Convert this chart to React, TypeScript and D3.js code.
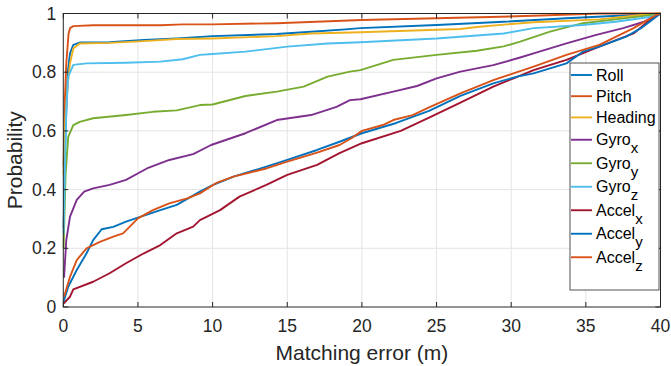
import { useEffect, useRef } from 'react';
import * as d3 from 'd3';

// matching error (m) / cumulative probability
const pitchX = [0.02, 0.1, 0.2, 0.27, 0.35, 0.45, 0.67, 2, 6.5, 8, 10, 14.3, 20, 25, 29.3, 32, 35.9, 40];
const pitchY = [0.48, 0.7, 0.83, 0.876, 0.93, 0.95, 0.957, 0.96, 0.96, 0.963, 0.963, 0.967, 0.978, 0.984, 0.989, 0.993, 1.0, 1.0];

const rollX = [0.02, 0.15, 0.3, 0.45, 0.67, 1.1, 3.1, 5.4, 7.6, 10, 14.3, 16.6, 18.9, 19.9, 25, 29.5, 33.7, 38.2, 40];
const rollY = [0.27, 0.6, 0.8, 0.864, 0.893, 0.901, 0.902, 0.91, 0.915, 0.923, 0.93, 0.938, 0.946, 0.95, 0.961, 0.972, 0.984, 0.995, 1.0];

const headingX = [0.02, 0.15, 0.3, 0.45, 0.67, 1.1, 3.1, 5.4, 7.6, 10, 14.3, 16.6, 19.9, 26.6, 27.7, 29.5, 31.5, 35.9, 38.7, 40];
const headingY = [0.45, 0.65, 0.76, 0.83, 0.881, 0.898, 0.9, 0.906, 0.913, 0.915, 0.923, 0.932, 0.936, 0.947, 0.954, 0.962, 0.97, 0.98, 0.995, 1.0];

const gyroXX = [0.05, 0.2, 0.45, 0.9, 1.4, 2, 3.1, 4.2, 5.6, 7.1, 8.7, 9.9, 12.2, 14.3, 16.6, 18.3, 19.2, 19.9, 22.1, 23.7, 25, 26.6, 28.8, 30.6, 31.5, 33.7, 35.7, 37.5, 38.9, 40];
const gyroXY = [0.1, 0.228, 0.308, 0.365, 0.393, 0.404, 0.416, 0.433, 0.472, 0.501, 0.521, 0.552, 0.592, 0.637, 0.654, 0.682, 0.705, 0.708, 0.734, 0.753, 0.779, 0.802, 0.824, 0.85, 0.864, 0.898, 0.927, 0.95, 0.972, 1.0];

const gyroYX = [0.02, 0.15, 0.33, 0.67, 1.1, 2, 4.2, 6, 7.6, 9.15, 10, 12.2, 14.3, 16.1, 17.7, 19.2, 19.9, 22.1, 25, 27.7, 29.5, 30.6, 32.6, 34.8, 37, 39.7, 40];
const gyroYY = [0.2, 0.45, 0.58, 0.62, 0.631, 0.643, 0.654, 0.665, 0.67, 0.688, 0.69, 0.719, 0.734, 0.751, 0.785, 0.802, 0.807, 0.842, 0.859, 0.873, 0.888, 0.904, 0.938, 0.967, 0.98, 0.997, 1.0];

const gyroZX = [0.02, 0.1, 0.2, 0.33, 0.67, 1.56, 4.2, 6.5, 8, 9.15, 10, 12.2, 15, 17.7, 19.9, 25, 29.5, 31.5, 34.8, 37, 39.4, 40];
const gyroZY = [0.25, 0.45, 0.671, 0.785, 0.825, 0.83, 0.832, 0.836, 0.844, 0.859, 0.862, 0.87, 0.887, 0.898, 0.902, 0.915, 0.932, 0.95, 0.961, 0.972, 0.989, 1.0];

const accelXX = [0.02, 0.45, 0.67, 2, 3.1, 4.2, 5.4, 6.5, 7.6, 8.7, 9.15, 10.5, 11.8, 13.6, 15, 17, 18.5, 20, 22.6, 24.5, 26.6, 28.8, 30.2, 31.5, 33.7, 35.9, 38.2, 39.1, 40];
const accelXY = [0.012, 0.035, 0.06, 0.086, 0.115, 0.149, 0.183, 0.211, 0.251, 0.274, 0.296, 0.33, 0.376, 0.416, 0.45, 0.484, 0.524, 0.558, 0.6, 0.645, 0.696, 0.751, 0.78, 0.807, 0.842, 0.887, 0.932, 0.97, 1.0];

const accelYX = [0.02, 0.33, 0.9, 1.56, 2, 2.57, 3.35, 4.2, 5.1, 6.5, 7.6, 9.15, 10, 11.4, 13.6, 15, 17, 18.5, 20, 22.3, 24.5, 26.6, 28.8, 30.4, 31.5, 33.7, 34.8, 35.9, 37.7, 38.7, 40];
const accelYY = [0.018, 0.069, 0.126, 0.183, 0.228, 0.265, 0.273, 0.291, 0.306, 0.33, 0.348, 0.393, 0.415, 0.444, 0.478, 0.501, 0.535, 0.563, 0.592, 0.627, 0.668, 0.719, 0.762, 0.785, 0.796, 0.83, 0.87, 0.887, 0.921, 0.95, 1.0];

const accelZX = [0.05, 0.45, 0.9, 1.56, 2.45, 3.35, 4, 5, 6, 7.1, 8.3, 9.15, 10.3, 11.4, 13.6, 15, 17, 18.5, 19.3, 20, 21.4, 22.1, 23.4, 24.5, 26.6, 28.8, 30.4, 31.5, 33.7, 35.9, 38.2, 39.7, 40];
const accelZY = [0.035, 0.103, 0.16, 0.2, 0.222, 0.24, 0.251, 0.302, 0.33, 0.353, 0.37, 0.387, 0.424, 0.444, 0.472, 0.495, 0.526, 0.552, 0.575, 0.6, 0.62, 0.637, 0.654, 0.68, 0.728, 0.773, 0.8, 0.819, 0.859, 0.893, 0.95, 0.995, 1.0];

const xTicks = [0, 5, 10, 15, 20, 25, 30, 35, 40];
const yTicks = [0, 0.2, 0.4, 0.6, 0.8, 1];

interface Series {
  name: string;
  sub?: string;
  color: string;
  xs: number[];
  ys: number[];
}

// legend order; drawing order is Roll first, Accel_z last
const SERIES: Series[] = [
  { name: 'Roll', color: '#0072BD', xs: rollX, ys: rollY },
  { name: 'Pitch', color: '#D95319', xs: pitchX, ys: pitchY },
  { name: 'Heading', color: '#EDB120', xs: headingX, ys: headingY },
  { name: 'Gyro', sub: 'x', color: '#7E2F8E', xs: gyroXX, ys: gyroXY },
  { name: 'Gyro', sub: 'y', color: '#77AC30', xs: gyroYX, ys: gyroYY },
  { name: 'Gyro', sub: 'z', color: '#4DBEEE', xs: gyroZX, ys: gyroZY },
  { name: 'Accel', sub: 'x', color: '#A2142F', xs: accelXX, ys: accelXY },
  { name: 'Accel', sub: 'y', color: '#0072BD', xs: accelYX, ys: accelYY },
  { name: 'Accel', sub: 'z', color: '#D95319', xs: accelZX, ys: accelZY },
];

const W = 671;
const H = 366;
const FONT = '"Liberation Sans", Arial, Helvetica, sans-serif';
const AXIS = '#262626';

export default function App() {
  const svgRef = useRef<SVGSVGElement>(null);

  useEffect(() => {
    if (!svgRef.current) return;
    const svg = d3.select(svgRef.current);
    svg.selectAll('*').remove();

    const left = 63.3;
    const right = 660.5;
    const top = 13.5;
    const bottom = 307;

    const x = d3.scaleLinear().domain([0, 40]).range([left, right]);
    const y = d3.scaleLinear().domain([0, 1]).range([bottom, top]);

    svg.append('rect').attr('x', left).attr('y', top)
      .attr('width', right - left).attr('height', bottom - top).attr('fill', '#fff');

    // grid
    const grid = svg.append('g').attr('stroke', '#e4e4e4').attr('stroke-width', 1);
    xTicks.slice(1, -1).forEach((t) => {
      grid.append('line').attr('x1', x(t)).attr('x2', x(t)).attr('y1', top).attr('y2', bottom);
    });
    yTicks.slice(1, -1).forEach((t) => {
      grid.append('line').attr('x1', left).attr('x2', right).attr('y1', y(t)).attr('y2', y(t));
    });

    // curves
    const line = d3.line<[number, number]>()
      .x((d) => x(d[0]))
      .y((d) => y(d[1]));

    SERIES.forEach((s) => {
      const pts = s.xs.map((v, i) => [v, s.ys[i]] as [number, number]);
      svg.append('path')
        .attr('d', line(pts))
        .attr('fill', 'none')
        .attr('stroke', s.color)
        .attr('stroke-width', 1.9)
        .attr('stroke-linejoin', 'round');
    });

    // axes with inward ticks on all four sides
    const tl = 5;
    const ax = svg.append('g').attr('stroke', AXIS).attr('stroke-width', 1);
    ax.append('rect').attr('x', left).attr('y', top)
      .attr('width', right - left).attr('height', bottom - top).attr('fill', 'none');
    xTicks.forEach((t) => {
      ax.append('line').attr('x1', x(t)).attr('x2', x(t)).attr('y1', bottom).attr('y2', bottom - tl);
      ax.append('line').attr('x1', x(t)).attr('x2', x(t)).attr('y1', top).attr('y2', top + tl);
    });
    yTicks.forEach((t) => {
      ax.append('line').attr('x1', left).attr('x2', left + tl).attr('y1', y(t)).attr('y2', y(t));
      ax.append('line').attr('x1', right).attr('x2', right - tl).attr('y1', y(t)).attr('y2', y(t));
    });

    const labels = svg.append('g').attr('font-family', FONT).attr('fill', AXIS);
    xTicks.forEach((t) => {
      labels.append('text')
        .attr('x', x(t)).attr('y', bottom + 25)
        .attr('text-anchor', 'middle')
        .attr('font-size', 17.5)
        .text(d3.format('d')(t));
    });
    yTicks.forEach((t) => {
      labels.append('text')
        .attr('x', left - 7).attr('y', y(t))
        .attr('dy', '0.35em')
        .attr('text-anchor', 'end')
        .attr('font-size', 17.5)
        .text(t === 0 || t === 1 ? String(t) : d3.format('.1f')(t));
    });

    labels.append('text')
      .attr('x', (left + right) / 2).attr('y', 360)
      .attr('text-anchor', 'middle')
      .attr('font-size', 21)
      .text('Matching error (m)');
    labels.append('text')
      .attr('transform', `translate(22, ${(top + bottom) / 2}) rotate(-90)`)
      .attr('text-anchor', 'middle')
      .attr('font-size', 21)
      .text('Probability');

    // legend
    const lg = svg.append('g').attr('font-family', FONT);
    lg.append('rect')
      .attr('x', 570).attr('y', 63).attr('width', 89).attr('height', 227)
      .attr('fill', '#fff').attr('stroke', AXIS).attr('stroke-width', 0.8);
    let cy = 75;
    SERIES.forEach((s, i) => {
      if (i > 0) {
        const prevH = SERIES[i - 1].sub ? 23.5 : 21.2;
        const curH = s.sub ? 23.5 : 21.2;
        cy += (prevH + curH) / 2;
      }
      lg.append('line')
        .attr('x1', 571).attr('x2', 592).attr('y1', cy).attr('y2', cy)
        .attr('stroke', s.color).attr('stroke-width', 1.9);
      const t = lg.append('text')
        .attr('x', 596).attr('y', cy).attr('dy', '0.35em')
        .attr('font-size', 16).attr('fill', '#000');
      t.append('tspan').text(s.name);
      if (s.sub) t.append('tspan').attr('dy', 8).attr('font-size', 15).text(s.sub);
    });
  }, []);

  return (
    <svg
      ref={svgRef}
      width={W}
      height={H}
      viewBox={`0 0 ${W} ${H}`}
      style={{ position: 'absolute', left: 0, top: 0, background: '#fff' }}
    />
  );
}
